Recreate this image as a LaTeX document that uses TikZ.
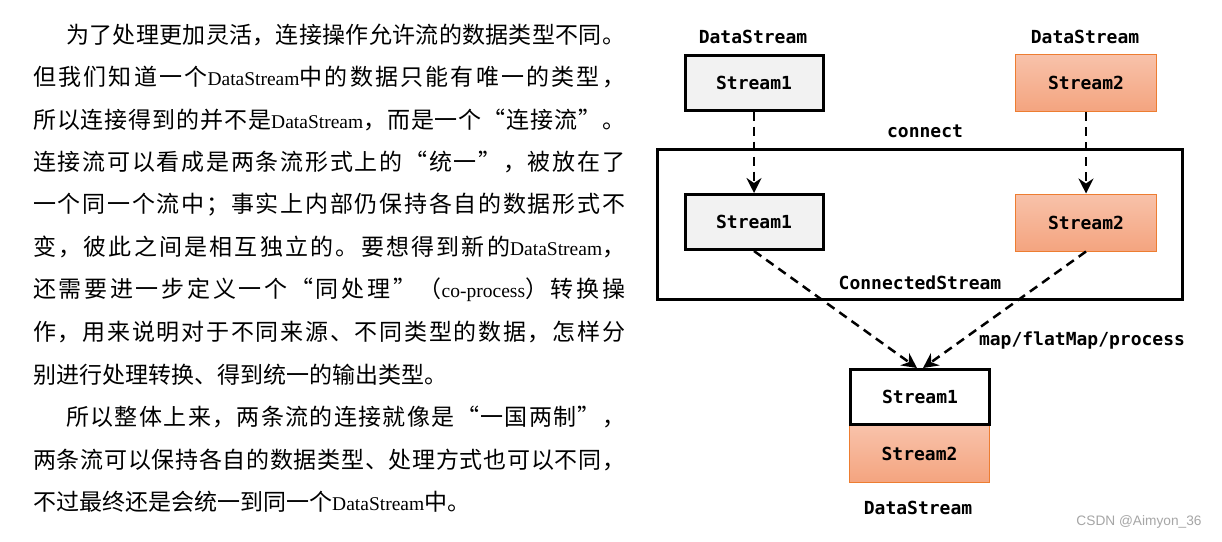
\documentclass[tikz,border=0pt]{standalone}
\usepackage{fontspec}
\setmainfont{Noto Sans CJK SC}
\newfontfamily\latfont{Liberation Serif}
\newfontfamily\codefont{DejaVu Sans Mono}
\newfontfamily\markfont{Liberation Sans}
% stretchable glue between CJK characters, for justified lines
\newcount\cjkchar
\cjkchar="4E00
\loop
  \XeTeXcharclass\cjkchar=1
  \advance\cjkchar by 1
\ifnum\cjkchar<"9FA6 \repeat
\XeTeXcharclass"201C=2 \XeTeXcharclass"FF08=2
\XeTeXcharclass"201D=3 \XeTeXcharclass"FF09=3
\XeTeXcharclass"FF0C=3 \XeTeXcharclass"3002=3
\XeTeXcharclass"FF1B=3 \XeTeXcharclass"3001=3
\XeTeXinterchartokenstate=1
\newcommand{\cjkglue}{\hskip 0pt plus 4pt\relax}
\XeTeXinterchartoks 1 1 = {\cjkglue}
\XeTeXinterchartoks 1 2 = {\cjkglue}
\XeTeXinterchartoks 1 3 = {\cjkglue}
\XeTeXinterchartoks 2 1 = {\cjkglue}
\XeTeXinterchartoks 3 1 = {\cjkglue}
\XeTeXinterchartoks 3 2 = {\cjkglue}
\XeTeXinterchartoks 3 3 = {\cjkglue}
\XeTeXinterchartoks 0 1 = {\cjkglue}
\XeTeXinterchartoks 1 0 = {\cjkglue}
\XeTeXinterchartoks 0 3 = {\cjkglue}
\XeTeXinterchartoks 3 0 = {\cjkglue}
\usetikzlibrary{arrows.meta}
\definecolor{boxgray}{HTML}{F2F2F2}
\definecolor{orangeline}{HTML}{ED7D31}
\definecolor{orangetop}{HTML}{F8C2AA}
\definecolor{orangebot}{HTML}{F4A47F}
\newcommand{\en}[1]{{\latfont\fontsize{19.5pt}{19.5pt}\selectfont #1}}
\newcommand{\full}[1]{\makebox[592pt][s]{#1}}
\newcommand{\fullind}[1]{\makebox[559pt][s]{#1}}
\tikzset{
  para/.style={anchor=west, inner sep=0pt,
               font=\fontsize{23pt}{23pt}\selectfont},
  code/.style={inner sep=0pt, font=\codefont\bfseries\fontsize{18pt}{18pt}\selectfont},
  stream one/.style={draw=black, line width=3pt, fill=#1,
                     minimum width=138pt, minimum height=55pt, code},
  stream two/.style={draw=orangeline, line width=1pt,
                     top color=orangetop, bottom color=orangebot,
                     minimum width=141pt, minimum height=57pt, code}
}

\begin{document}
\begin{tikzpicture}[x=1pt,y=-1pt,
  flow/.style={line width=2.5pt, dash pattern=on 9pt off 6pt,
               -{Stealth[length=15pt,width=15pt,inset=5pt]}}
]
\useasboundingbox[fill=white] (0,0) rectangle (1222,541);

% the text
\node[para] (l1)  at (66,35)    {\fullind{为了处理更加灵活，连接操作允许流的数据类型不同。}};
\node[para] (l2)  at (33,77.5)  {\full{但我们知道一个\en{DataStream}中的数据只能有唯一的类型，}};
\node[para] (l3)  at (33,120)   {\full{所以连接得到的并不是\en{DataStream}，而是一个“连接流”。}};
\node[para] (l4)  at (33,162)   {\full{连接流可以看成是两条流形式上的“统一”，被放在了}};
\node[para] (l5)  at (33,204.5) {\full{一个同一个流中；事实上内部仍保持各自的数据形式不}};
\node[para] (l6)  at (33,247)   {\full{变，彼此之间是相互独立的。要想得到新的\en{DataStream}，}};
\node[para] (l7)  at (33,289.5) {\full{还需要进一步定义一个“同处理”（\en{co-process}）转换操}};
\node[para] (l8)  at (33,332)   {\full{作，用来说明对于不同来源、不同类型的数据，怎样分}};
\node[para] (l9)  at (33,374.5) {别进行处理转换、得到统一的输出类型。};
\node[para] (l10) at (66,417)   {\fullind{所以整体上来，两条流的连接就像是“一国两制”，}};
\node[para] (l11) at (33,459.5) {\full{两条流可以保持各自的数据类型、处理方式也可以不同，}};
\node[para] (l12) at (33,502)   {不过最终还是会统一到同一个\en{DataStream}中。};

% the streams
\node[code] (t1) at (753,37)  {DataStream};
\node[code] (t2) at (1085,37) {DataStream};
\node[stream one=boxgray] (s1top) at (754,82.5) {Stream1};
\node[stream two]         (s2top) at (1086,83)  {Stream2};
\node[code] (con) at (925,131) {connect};

\node[draw=black, line width=3pt, minimum width=525pt, minimum height=150pt]
      (cs) at (920,224.5) {};
\node[stream one=boxgray] (s1in) at (754,222)    {Stream1};
\node[stream two]         (s2in) at (1086,222.5) {Stream2};
\node[code] (cst) at (920,283) {ConnectedStream};

\node[stream two, minimum width=140pt] (s2out) at (919.5,454) {Stream2};
\node[stream one=white, minimum width=139pt] (s1out) at (920,397) {Stream1};
\node[code] (map) at (1082,341) {map/flatMap/process};
\node[code] (t3)  at (918,508)  {DataStream};

% the arrows
\draw[flow] (s1top.south) -- (s1in.north);
\draw[flow] (s2top.south) -- (s2in.north);
\draw[flow] (s1in.south) -- ([xshift=-3pt]s1out.north);
\draw[flow] (s2in.south) -- ([xshift=3pt]s1out.north);

\node[text=gray!70, font=\markfont\fontsize{13.7pt}{13.7pt}\selectfont,
      inner sep=0pt] (wm) at (1139,522) {CSDN @Aimyon\_36};
\end{tikzpicture}
\end{document}
